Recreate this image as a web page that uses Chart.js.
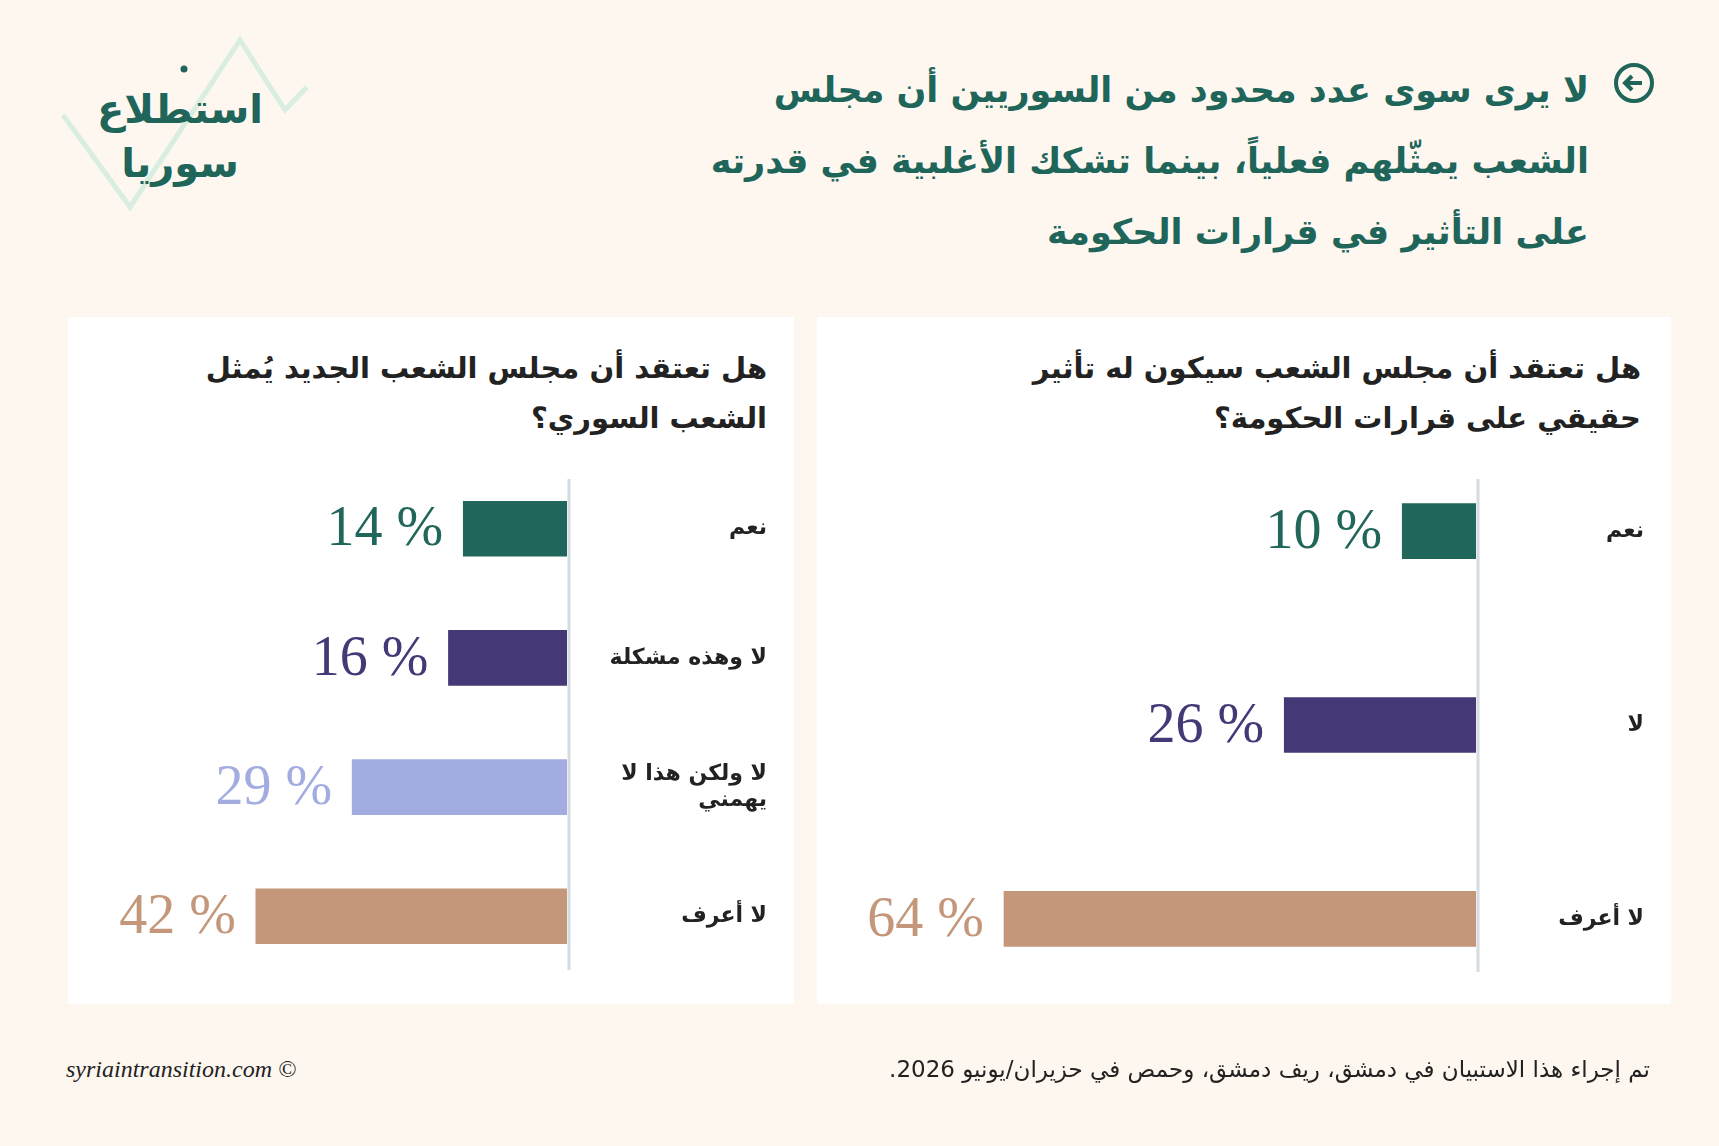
<!DOCTYPE html>
<html lang="ar">
<head>
<meta charset="utf-8">
<script src="https://cdn.jsdelivr.net/npm/chart.js@4.4.0/dist/chart.umd.min.js"></script>
<style>
  body { margin:0; width:1719px; height:1146px; background:#fdf7f0; position:relative; overflow:hidden; font-family:"DejaVu Sans", sans-serif; }
  .abs { position:absolute; }
  .panel { position:absolute; background:#fff; }
  .title { right:130px; top:55px; width:880px; text-align:right; direction:rtl; color:#20655a; font-weight:bold; font-size:35px; line-height:71px; }
  .q { direction:rtl; text-align:right; font-weight:bold; font-size:29px; line-height:50px; color:#222; }
  .foot { top:1056px; font-size:23px; color:#222; }
</style>
</head>
<body>
<div class="panel" style="left:68px;top:317px;width:726px;height:687px"></div>
<div class="panel" style="left:817px;top:317px;width:854px;height:687px"></div>

<svg class="abs" style="left:55px;top:35px" width="260" height="180">
  <polyline points="8,80 75,172 185,5 230,75 252,52" fill="none" stroke="#d9ede0" stroke-width="5"/>
  <circle cx="129" cy="34" r="3.5" fill="#20655a"/>
</svg>
<div class="abs" style="left:90px;top:82px;width:180px;text-align:center;direction:rtl;color:#20655a;font-weight:bold;font-size:40px;line-height:54px">استطلاع<br>سوريا</div>

<svg class="abs" style="left:1612px;top:61px" width="44" height="44">
  <circle cx="22" cy="22" r="18" fill="none" stroke="#20655a" stroke-width="4"/>
  <path d="M30 22 H14 M20 15 L13 22 L20 29" fill="none" stroke="#20655a" stroke-width="4"/>
</svg>
<div class="abs title">لا يرى سوى عدد محدود من السوريين أن مجلس<br>الشعب يمثّلهم فعلياً، بينما تشكك الأغلبية في قدرته<br>على التأثير في قرارات الحكومة</div>

<div class="abs q" style="left:150px;top:343px;width:617px">هل تعتقد أن مجلس الشعب الجديد يُمثل الشعب السوري؟</div>
<div class="abs q" style="left:1000px;top:343px;width:641px">هل تعتقد أن مجلس الشعب سيكون له تأثير حقيقي على قرارات الحكومة؟</div>

<div class="abs" style="left:68px;top:423px;width:726px;height:599px"><canvas id="leftChart"></canvas></div>
<div class="abs" style="left:817px;top:393px;width:854px;height:664px"><canvas id="rightChart"></canvas></div>

<div class="abs foot" style="left:66px;font-family:'Liberation Serif',serif;font-style:italic;font-size:24px">syriaintransition.com ©</div>
<div class="abs foot" style="right:69px;direction:rtl">تم إجراء هذا الاستبيان في دمشق، ريف دمشق، وحمص في حزيران/يونيو 2026.</div>

<script>
const leftLabels = ['نعم', 'لا وهذه مشكلة', ['لا ولكن هذا لا', 'يهمني'], 'لا أعرف'];
const leftValues = [14, 16, 29, 42];
const leftColors = ['#21665a', '#443876', '#a2ace0', '#c4977b'];

const rightLabels = ['نعم', 'لا', 'لا أعرف'];
const rightValues = [10, 26, 64];
const rightColors = ['#21665a', '#443876', '#c4977b'];

const valueLabels = {
    id: 'valueLabels',
    afterDatasetsDraw(chart) {
        const ctx = chart.ctx;
        const ds = chart.data.datasets[0];
        ctx.save();
        ctx.font = '56px "Liberation Serif", serif';
        ctx.textAlign = 'right';
        ctx.textBaseline = 'middle';
        chart.getDatasetMeta(0).data.forEach(function (bar, i) {
            ctx.fillStyle = ds.backgroundColor[i];
            ctx.fillText(ds.data[i] + ' %', bar.x - 20, bar.y + 2);
        });
        // axis line
        const x = chart.chartArea.right + 2;
        ctx.strokeStyle = '#d3dce2';
        ctx.lineWidth = 3;
        ctx.beginPath();
        ctx.moveTo(x, chart.options.axisTop);
        ctx.lineTo(x, chart.options.axisBottom);
        ctx.stroke();
        ctx.restore();
    }
};

function makeChart(id, labels, values, colors, max, axisWidth, pad, axisTop, axisBottom) {
    return new Chart(document.getElementById(id), {
        type: 'bar',
        data: { labels: labels, datasets: [{ data: values, backgroundColor: colors, barThickness: 55 }] },
        options: {
            indexAxis: 'y',
            responsive: true,
            maintainAspectRatio: false,
            animation: false,
            axisTop: axisTop,
            axisBottom: axisBottom,
            layout: { padding: pad },
            plugins: { legend: { display: false }, tooltip: { enabled: false } },
            scales: {
                x: { reverse: true, min: 0, max: max, display: false },
                y: {
                    position: 'right',
                    grid: { display: false },
                    border: { display: false },
                    afterFit: function (s) { s.width = axisWidth; },
                    ticks: { crossAlign: 'far', color: '#222', font: { family: 'DejaVu Sans', size: 22, weight: 'bold' }, padding: 28 }
                }
            }
        },
        plugins: [valueLabels]
    });
}

makeChart('leftChart', leftLabels, leftValues, leftColors, 66, 200,
    { left: 10, top: 14, bottom: 13, right: 27 }, 56, 547);
makeChart('rightChart', rightLabels, rightValues, rightColors, 88, 168,
    { left: 10, top: 15, bottom: 12, right: 27 }, 86, 579);
</script>
</body>
</html>
